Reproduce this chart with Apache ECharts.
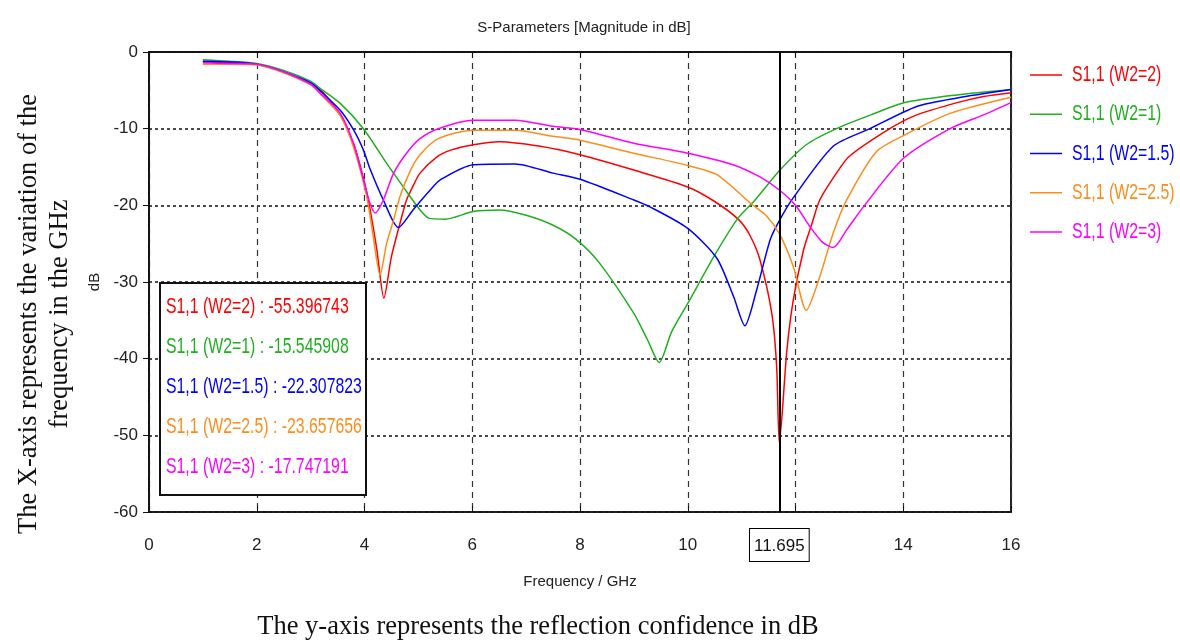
<!DOCTYPE html>
<html>
<head>
<meta charset="utf-8">
<script src="https://cdn.jsdelivr.net/npm/echarts@6/dist/echarts.min.js"></script>
<style>
  html, body { margin: 0; padding: 0; background: #fff; }
  #chart { width: 1180px; height: 641px; }
</style>
</head>
<body>
<div id="chart"></div>
<script>
// ---- data (frequency GHz, S11 dB) ----
const seriesNames = ['S1,1 (W2=2)', 'S1,1 (W2=1)', 'S1,1 (W2=1.5)', 'S1,1 (W2=2.5)', 'S1,1 (W2=3)'];
const seriesColors = ['#ff0000', '#1fb01f', '#0000ff', '#ff8c1a', '#ff00ff'];

const s11_W2_2 = [[1,-1.3],[1.5,-1.4],[2,-1.6],[2.5,-2.6],[3,-4.2],[3.25,-5.4],[3.55,-8.2],[3.8,-12],[4.0,-17],[4.1,-20.4],[4.23,-25.8],[4.36,-32.1],[4.5,-26.7],[4.66,-22.3],[4.78,-19.3],[4.9,-17.5],[5.03,-15.8],[5.34,-13.7],[5.6,-12.8],[6.02,-12.1],[6.5,-11.7],[7.26,-12.3],[8.0,-13.4],[9.0,-15.4],[10.0,-17.6],[10.5,-19.5],[10.95,-21.9],[11.16,-24],[11.34,-27.1],[11.56,-34.1],[11.65,-41],[11.7,-51],[11.84,-38.9],[11.96,-32.3],[12.15,-25.8],[12.3,-22.5],[12.45,-19.3],[12.76,-15.8],[13.0,-13.6],[13.75,-10],[14.25,-8.2],[15.0,-6.6],[15.49,-5.8],[16,-5.3]];

const s11_W2_1 = [[1,-1.0],[1.5,-1.2],[2,-1.5],[2.5,-2.4],[3,-3.8],[3.17,-4.7],[3.55,-6.7],[3.98,-10],[4.41,-14.5],[4.72,-17.6],[5.03,-20.6],[5.2,-21.7],[5.5,-21.8],[6.02,-20.8],[6.5,-20.6],[7.0,-21.3],[7.5,-22.6],[7.94,-24.5],[8.37,-27.6],[9.0,-34.1],[9.25,-37.5],[9.47,-40.5],[9.7,-36.5],[10.0,-32.8],[10.5,-26.5],[10.93,-21.7],[11.25,-19.3],[11.7,-15.5],[12.2,-12.1],[12.76,-10],[13.4,-8.2],[14.03,-6.6],[15,-5.6],[16,-4.9]];

const s11_W2_1p5 = [[1,-1.2],[1.5,-1.3],[2,-1.6],[2.5,-2.6],[3,-4.0],[3.17,-5.0],[3.55,-7.6],[3.8,-10.2],[3.98,-12.8],[4.1,-15.2],[4.35,-19.3],[4.63,-22.9],[4.9,-20.6],[5.22,-18],[5.4,-16.7],[6.02,-14.7],[6.8,-14.6],[7.5,-15.8],[8.0,-16.6],[9.0,-19.3],[9.3,-20.2],[10.0,-23],[10.54,-26.9],[10.85,-31.9],[11.06,-35.7],[11.28,-31],[11.53,-24.5],[11.7,-22],[11.96,-19],[12.7,-12.3],[13.38,-10],[14.25,-7.1],[15,-6.0],[16,-4.9]];

const s11_W2_2p5 = [[1,-1.6],[1.5,-1.6],[2,-1.7],[2.5,-2.7],[3,-4.3],[3.17,-5.4],[3.55,-8.3],[3.8,-12.5],[4.04,-18.8],[4.16,-24],[4.29,-29.1],[4.41,-25],[4.54,-21.9],[4.66,-18.8],[4.85,-15.5],[5.03,-13.4],[5.37,-11.3],[6.02,-10.2],[6.8,-10.2],[7.5,-11],[8.0,-11.5],[9.0,-13.2],[10.0,-14.8],[10.54,-16],[11.16,-19.7],[11.45,-21.3],[11.7,-23.7],[11.96,-28],[12.2,-33.7],[12.45,-29.3],[12.7,-23.6],[12.95,-19.3],[13.5,-13],[14.03,-10.8],[14.87,-8],[16,-5.9]];

const s11_W2_3 = [[1,-1.4],[1.5,-1.5],[2,-1.6],[2.5,-2.6],[3,-4.2],[3.17,-5.3],[3.55,-8.0],[3.8,-12],[3.98,-16.7],[4.1,-19.7],[4.2,-21],[4.35,-19.3],[4.54,-15.8],[4.78,-13.2],[5.03,-11.3],[5.37,-10],[6.02,-8.9],[6.8,-8.9],[7.5,-9.7],[8.0,-10.1],[9.0,-11.9],[10.0,-13.2],[10.84,-14.7],[11.34,-16.3],[11.7,-18],[12.0,-20],[12.25,-22.6],[12.5,-24.8],[12.7,-25.5],[12.95,-23.2],[13.26,-20.2],[14.0,-13.9],[14.87,-10],[15.49,-8.2],[16,-6.6]];

const seriesData = [s11_W2_2, s11_W2_1, s11_W2_1p5, s11_W2_2p5, s11_W2_3];

const markerFreq = 11.695;
const markerValues = ['-55.396743', '-15.545908', '-22.307823', '-23.657656', '-17.747191'];

const xTicks = [0, 2, 4, 6, 8, 10, 12, 14, 16];
const yTicks = [0, -10, -20, -30, -40, -50, -60];

// ---- chart ----
const FONT = "'Liberation Sans', Arial, sans-serif";
const SERIF = "'Liberation Serif', 'Times New Roman', serif";
const chart = echarts.init(document.getElementById('chart'), null, { renderer: 'canvas' });

const series = seriesData.map((d, i) => ({
  name: seriesNames[i],
  type: 'line',
  data: d,
  smooth: 0.25,
  symbol: 'none',
  lineStyle: { color: seriesColors[i], width: 1.5 },
  itemStyle: { color: seriesColors[i] },
  z: 3,
  markLine: i === 0 ? {
    silent: true,
    symbol: 'none',
    animation: false,
    lineStyle: { color: '#000', width: 2, type: 'solid' },
    label: {
      show: true,
      position: 'start',
      distance: 17,
      formatter: String(markerFreq),
      color: '#111',
      fontFamily: FONT,
      fontSize: 17,
      lineHeight: 18,
      borderColor: '#000',
      borderWidth: 1,
      padding: [8, 4, 6, 4],
      backgroundColor: '#fff'
    },
    data: [{ xAxis: markerFreq }]
  } : undefined
}));

const SX = 0.72; // horizontal squeeze of the narrow labels
const insetTexts = seriesNames.map((n, i) => ({
  type: 'text',
  x: 166,
  y: 307 + i * 40,
  scaleX: SX,
  z: 101,
  style: {
    text: n + ' : ' + markerValues[i],
    fill: seriesColors[i],
    font: '22px ' + FONT,
    align: 'left',
    verticalAlign: 'middle'
  }
}));

const legendItems = [];
seriesNames.forEach((n, i) => {
  const yy = 75 + i * 39.25;
  legendItems.push({
    type: 'line', shape: { x1: 1030, y1: yy, x2: 1062, y2: yy },
    style: { stroke: seriesColors[i], lineWidth: 1.5 }
  });
  legendItems.push({
    type: 'text', x: 1072, y: yy, scaleX: SX,
    style: { text: n, fill: seriesColors[i], font: '22px ' + FONT, align: 'left', verticalAlign: 'middle' }
  });
});

chart.setOption({
  animation: false,
  backgroundColor: '#fff',
  title: {
    text: 'S-Parameters [Magnitude in dB]',
    left: 579,
    top: 15,
    textAlign: 'center',
    textStyle: { fontFamily: FONT, fontSize: 15, fontWeight: 'normal', color: '#222' }
  },
  grid: {
    left: 149, right: 169, top: 52, bottom: 129,
    show: true, borderColor: '#222', borderWidth: 2, backgroundColor: 'transparent'
  },
  xAxis: [{
    type: 'value',
    min: xTicks[0], max: xTicks[xTicks.length - 1], interval: 2,
    name: 'Frequency / GHz',
    nameLocation: 'middle',
    nameGap: 62,
    nameTextStyle: { fontFamily: FONT, fontSize: 15, color: '#222' },
    axisLine: { show: true, lineStyle: { color: '#111', width: 1.5 } },
    axisTick: { show: true, inside: false, length: 6, lineStyle: { color: '#111' } },
    axisLabel: {
      fontFamily: FONT, fontSize: 17, color: '#222', margin: 25,
      formatter: v => (Math.abs(v - 12) < 1e-9 ? '' : String(v))
    },
    splitLine: { show: true, lineStyle: { color: '#333', width: 1.2, type: [6, 5] } }
  }, {
    type: 'value',
    position: 'bottom',
    min: xTicks[0], max: xTicks[xTicks.length - 1], interval: 2,
    axisLine: { show: false },
    axisTick: { show: true, inside: true, length: 6, lineStyle: { color: '#111' } },
    axisLabel: { show: false },
    splitLine: { show: false }
  }],
  yAxis: {
    type: 'value',
    min: yTicks[yTicks.length - 1], max: yTicks[0], interval: 10,
    name: 'dB',
    nameLocation: 'middle',
    nameGap: 44,
    nameTextStyle: { fontFamily: FONT, fontSize: 15, color: '#222' },
    axisLine: { show: true, lineStyle: { color: '#111', width: 1.5 } },
    axisTick: { show: true, inside: false, length: 6, lineStyle: { color: '#111' } },
    axisLabel: { fontFamily: FONT, fontSize: 17, color: '#222', margin: 11 },
    splitLine: { show: true, lineStyle: { color: '#111', width: 1.5, type: [3, 3] } }
  },
  series: series,
  graphic: [
    { type: 'rect', z: 100, shape: { x: 160, y: 283, width: 206, height: 212 },
      style: { fill: '#fff', stroke: '#111', lineWidth: 2 } }
  ].concat(insetTexts).concat([
    { type: 'group', children: legendItems },
    {
      type: 'text', x: 29, y: 314, rotation: Math.PI / 2,
      style: { text: 'The X-axis represents the variation of the', font: '26.5px ' + SERIF,
               fill: '#111', align: 'center', verticalAlign: 'middle' }
    },
    {
      type: 'text', x: 60, y: 314, rotation: Math.PI / 2,
      style: { text: 'frequency in the GHz', font: '26.5px ' + SERIF,
               fill: '#111', align: 'center', verticalAlign: 'middle' }
    },
    {
      type: 'text', x: 538, y: 627,
      style: { text: 'The y-axis represents the reflection confidence in dB', font: '26.5px ' + SERIF,
               fill: '#111', align: 'center', verticalAlign: 'middle' }
    }
  ])
});
</script>
</body>
</html>
